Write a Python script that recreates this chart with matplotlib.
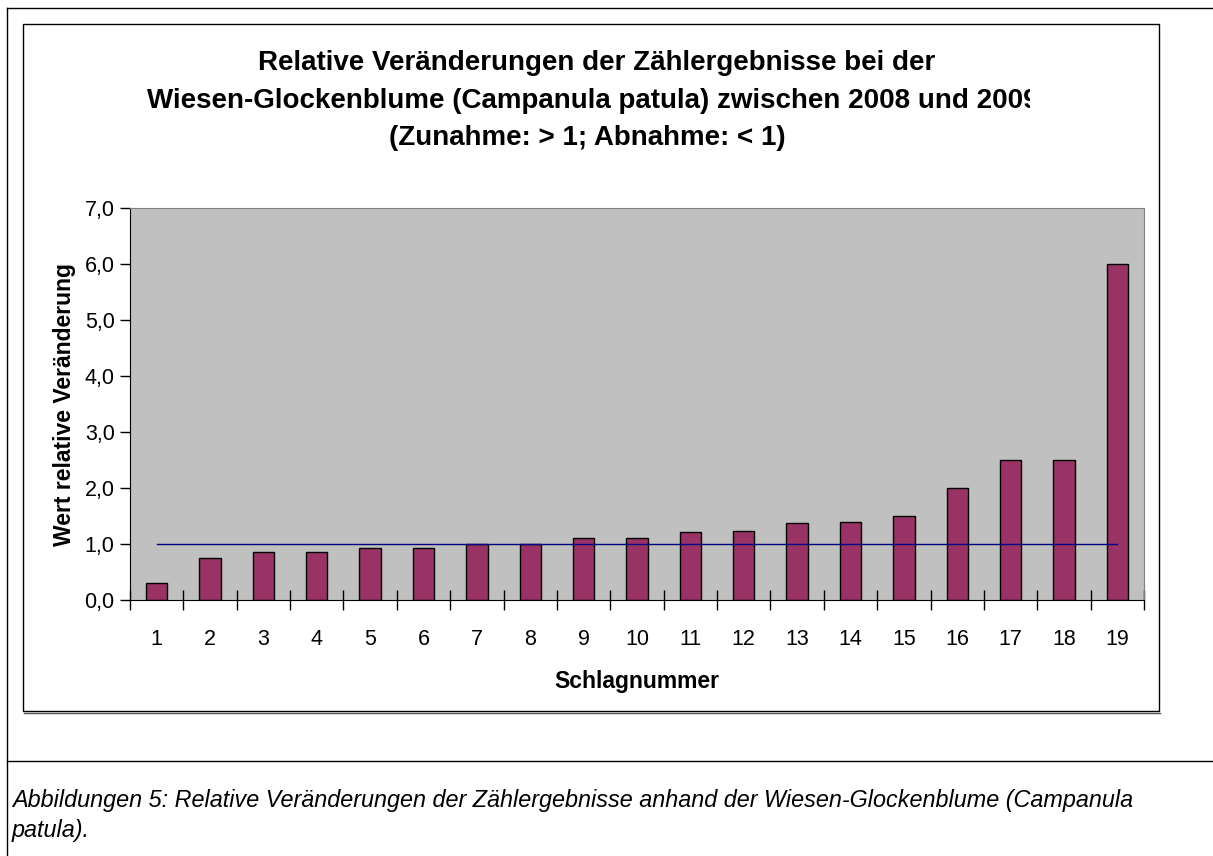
import matplotlib
matplotlib.use("Agg")
import matplotlib.pyplot as plt
from matplotlib.lines import Line2D
from matplotlib.patches import Rectangle
import numpy as np

plt.rcParams['font.family'] = ['Liberation Sans', 'DejaVu Sans']

# data
schlag = list(range(1, 20))
werte = [0.31, 0.75, 0.85, 0.85, 0.92, 0.92, 1.0, 1.0, 1.11, 1.11,
         1.21, 1.24, 1.37, 1.40, 1.50, 2.0, 2.5, 2.5, 6.0]
y_ticks = [0, 1, 2, 3, 4, 5, 6, 7]
y_labels = ["0,0", "1,0", "2,0", "3,0", "4,0", "5,0", "6,0", "7,0"]

W, H = 1213, 856
fig = plt.figure(figsize=(W / 100, H / 100), dpi=100)

def fx(px):
    return px / W

def fy(py):
    return 1 - py / H

# outer frame lines of the document
fig.add_artist(Line2D([fx(7), 1], [fy(8), fy(8)], color="black", lw=1))
fig.add_artist(Line2D([fx(7), fx(7)], [fy(8), 0], color="black", lw=1))
fig.add_artist(Line2D([fx(7), 1], [fy(761), fy(761)], color="black", lw=1))
# chart box
fig.add_artist(Rectangle((fx(23), fy(711)), fx(1159) - fx(23), fy(24) - fy(711),
                         fill=False, ec="black", lw=1, transform=fig.transFigure))
fig.add_artist(Line2D([fx(24), fx(1160)], [fy(713), fy(713)], color="#555555", lw=1))

ax = fig.add_axes([fx(130), fy(600), fx(1144) - fx(130), fy(208) - fy(600)])
ax.set_facecolor("#C0C0C0")

ax.bar(schlag, werte, width=0.4, color="#993366", edgecolor="black", linewidth=1, zorder=2)
ax.plot([schlag[0], schlag[-1]], [1, 1], color="#000080", lw=1, zorder=3)

ax.set_xlim(0.5, 19.5)
ax.set_ylim(0, 7)
ax.set_yticks(y_ticks)
ax.set_yticklabels(y_labels, fontsize=15.5)
ax.tick_params(axis="y", direction="out", length=7, width=1, pad=4)
ax.set_xticks(schlag)
ax.set_xticklabels([str(s) for s in schlag], fontsize=15.5)
ax.set_xticks(np.arange(0.5, 20, 1), minor=True)
ax.tick_params(axis="x", which="major", length=0, pad=21)
ax.tick_params(axis="x", which="minor", direction="inout", length=14, width=1)

for side in ["top", "right"]:
    ax.spines[side].set_color("#808080")
for side in ["left", "bottom"]:
    ax.spines[side].set_color("black")

ax.set_xlabel("Schlagnummer", fontsize=16.5, fontweight="bold", labelpad=14)
ax.set_ylabel("Wert relative Veränderung", fontsize=16.5, fontweight="bold", labelpad=6)

# title, the last digit is cut off like in the original
tkw = dict(ha="center", va="center", fontsize=20, fontweight="bold")
fig.text(fx(597), fy(63), "Relative Veränderungen der Zählergebnisse bei der", **tkw)
t2 = fig.text(fx(593), fy(101), "Wiesen-Glockenblume (Campanula patula) zwischen 2008 und 2009", **tkw)
t2.set_clip_path(Rectangle((0, 0), fx(1030), 1, transform=fig.transFigure))
fig.text(fx(587), fy(138), "(Zunahme: > 1; Abnahme: < 1)", **tkw)

ckw = dict(ha="left", va="center", fontsize=16.8, style="italic")
fig.text(fx(12), fy(800), "Abbildungen 5: Relative Veränderungen der Zählergebnisse anhand der Wiesen-Glockenblume (Campanula", **ckw)
fig.text(fx(12), fy(831), "patula).", **ckw)

fig.savefig("out.png", dpi=100)
